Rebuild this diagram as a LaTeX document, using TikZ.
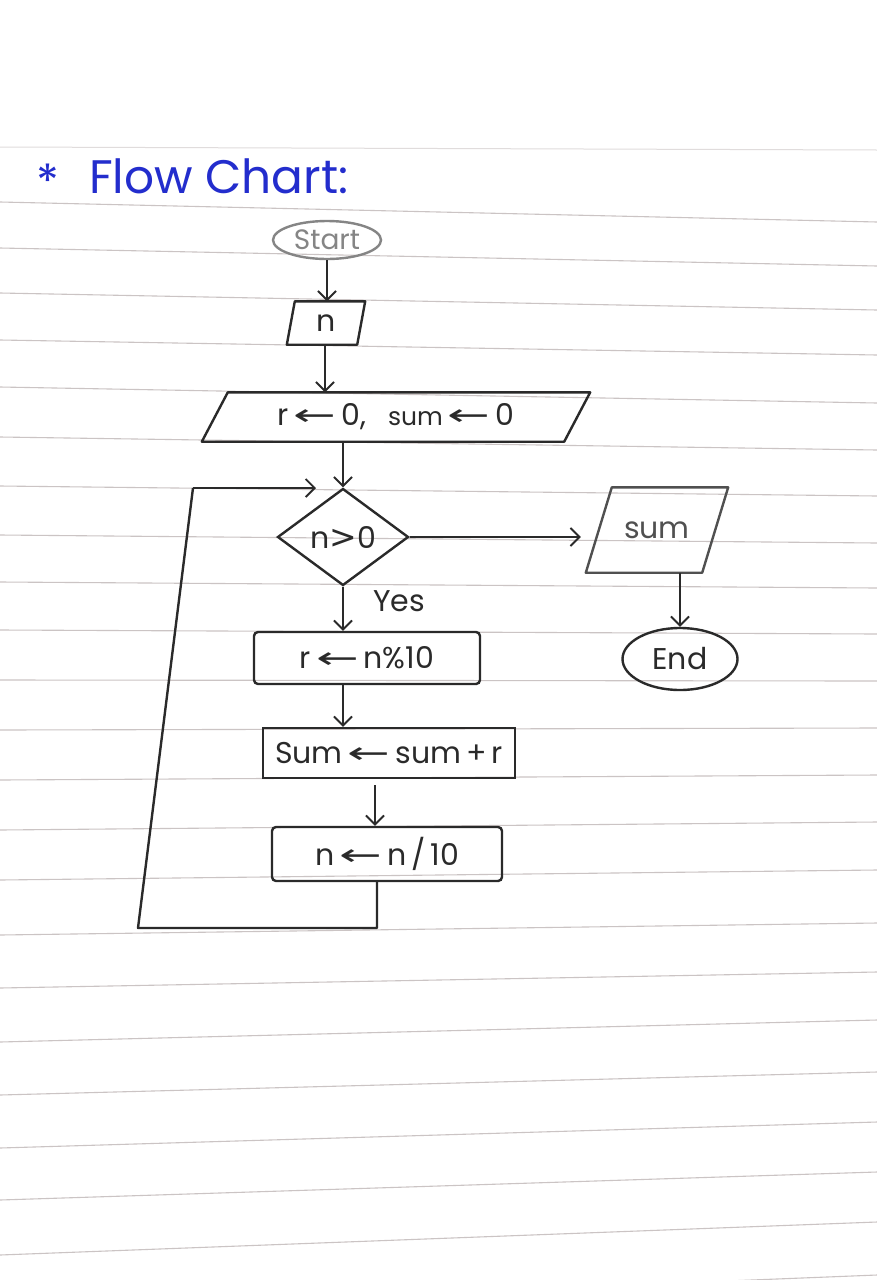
\documentclass[tikz,border=0pt]{standalone}
\usepackage{fontspec}
\setmainfont{Poppins}
\newfontfamily\symfont{DejaVu Sans}
\usetikzlibrary{shapes.geometric,arrows.meta}
\definecolor{ink}{HTML}{2A2A2A}
\definecolor{softink}{HTML}{858585}
\definecolor{midink}{HTML}{505050}
\definecolor{blueink}{RGB}{35,45,205}
\definecolor{paperline}{HTML}{CBC4C4}
\newcommand\larr{\,{\symfont\scalebox{1.7}[1.0]{←}}\,}
\newcommand\gtsym{{\symfont\scalebox{1.1}{>}}}
\newcommand\drawpara[3][ink]{\draw[draw=#1,line width=2.4pt,line join=round]
  ([xshift=#3]#2.north west) -- ([xshift=#3]#2.north east) --
  ([xshift=-#3]#2.south east) -- ([xshift=-#3]#2.south west) -- cycle;}
\begin{document}
\begin{tikzpicture}[x=1pt,y=-1pt,
  paper/.style={draw=paperline,line width=1.1pt},
  pen/.style={draw=ink,line width=2.4pt,text=ink,inner sep=0pt},
  lbl/.style={font=\fontsize{30}{34}\selectfont},
  slot/.style={inner sep=0pt,text=ink,lbl},
  arr/.style={draw=ink,line width=1.9pt,-{Straight Barb[length=9pt,width=18pt,line width=1.9pt]}},
  loopline/.style={draw=ink,line width=2.4pt,line join=round}]
\fill[white] (0,0) rectangle (877,1280);
\useasboundingbox (0,0) rectangle (877,1280);
% ruled paper
\draw[draw=paperline!60,line width=1pt] (0,147) -- (877,150);
\foreach \a/\b in {202/222,248/266,293/310,340/355,387/403,437/450,486/496,535/543,
  582/588,630/634,680/681,730/728,780/775,830/822,880/870,935/923,988/972,
  1042/1020,1095/1072,1148/1122,1200/1172,1255/1222,1310/1275}
  \draw[paper] (0,\a) -- (877,\b);
% title
\node[anchor=base west,text=blueink,font=\fontsize{47}{50}\selectfont,inner sep=0pt]
  (title) at (36,193) {\raisebox{-5pt}{*}\hspace{30pt}Flow Chart:};
% nodes
\node[pen,draw=softink,text=softink,ellipse,minimum width=108,minimum height=38,font=\fontsize{28}{32}\selectfont] (start) at (327,240) {Start};
\node[slot,minimum width=70,minimum height=43] (nin) at (326,323) {n};
\drawpara{nin}{4pt}
\node[slot,minimum width=362,minimum height=49] (init) at (396,417)
  {r\larr 0,\hspace{22pt}{\fontsize{25}{28}\selectfont sum}\larr 0};
\drawpara{init}{13pt}
\node[pen,diamond,minimum width=131,minimum height=97,lbl] (dec) at (343,537) {n\gtsym 0};
\node[slot,text=midink,minimum width=116,minimum height=85] (sumout) at (657,530) {sum};
\drawpara[midink]{sumout}{13pt}
\node[pen,ellipse,minimum width=115,minimum height=62,lbl] (endn) at (680,659) {End};
\node[pen,rectangle,rounded corners=4pt,minimum width=226,minimum height=52,lbl] (rbox) at (367,658) {r\larr n\%10};
\node[pen,rectangle,minimum width=252,minimum height=50,lbl] (sbox) at (389,753) {Sum\larr sum\,+\,r};
\node[pen,rectangle,rounded corners=4pt,minimum width=230,minimum height=54,lbl] (nbox) at (387,854) {n\larr n\,/\,10};
\node[slot] (yes) at (399,601) {Yes};
% connectors
\draw[arr] (start.south) -- (start.south |- nin.north);
\draw[arr] ([xshift=-1pt]nin.south) -- ([xshift=-1pt]nin.south |- init.north);
\draw[arr] (dec.north |- init.south) -- (dec.north);
\draw[arr,shorten >=18pt] (dec.east) -- (dec.east -| sumout.west);
\draw[arr] (endn.north |- sumout.south) -- (endn.north);
\draw[arr] (dec.south) -- (dec.south |- rbox.north);
\draw[arr] ([xshift=-24pt]rbox.south) -- ([xshift=-24pt]rbox.south |- sbox.north);
\draw[arr,shorten <=6pt] ([xshift=-14pt]sbox.south) -- ([xshift=-14pt]sbox.south |- nbox.north);
% loop back
\coordinate (lb) at (138,928);
\coordinate (lt) at (193,488);
\coordinate (ltip) at (316,488);
\draw[loopline] ([xshift=-10pt]nbox.south) -- ([xshift=-10pt]nbox.south |- lb) -- (lb) -- (lt);
\draw[arr] (lt) -- (ltip);
\end{tikzpicture}
\end{document}
